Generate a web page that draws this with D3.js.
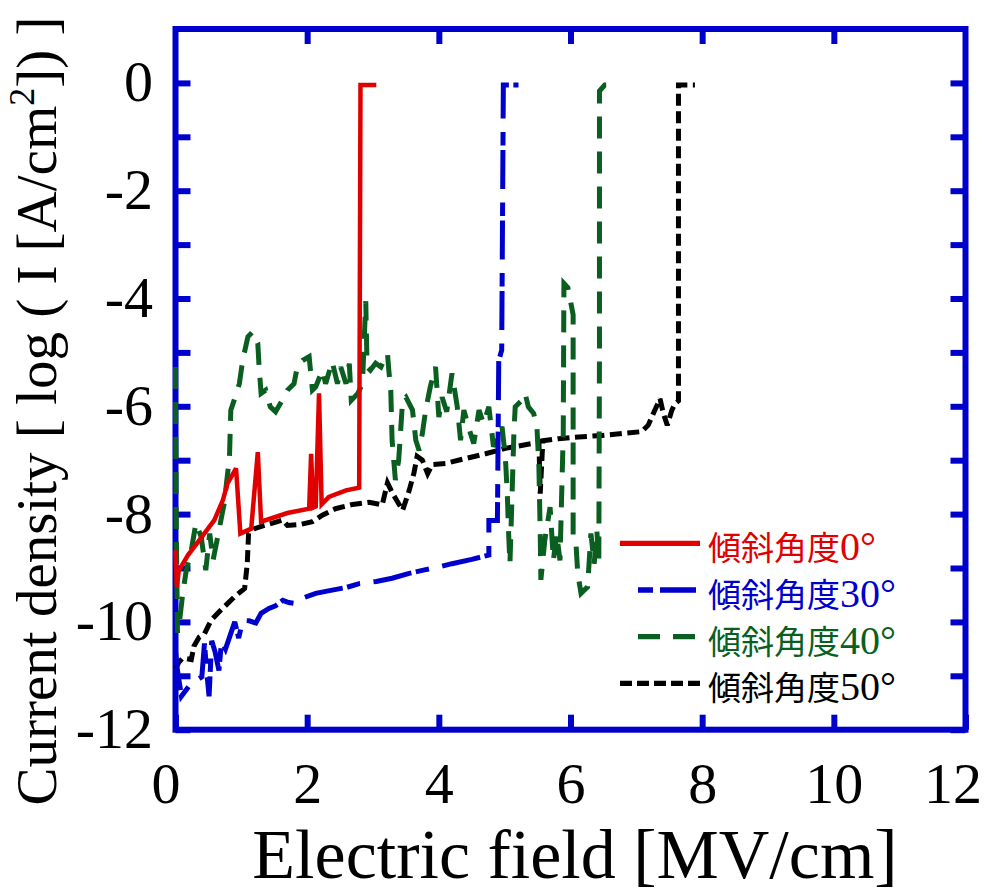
<!DOCTYPE html>
<html><head><meta charset="utf-8">
<script src="https://cdn.jsdelivr.net/npm/d3@7"></script>
<style>body{margin:0;background:#fff} svg{display:block}</style>
</head><body>
<svg id="c" width="984" height="892"></svg>
<script>
// ---- data ----
const xTicks = [0, 2, 4, 6, 8, 10, 12];
const xTopTicks = [2, 4, 6, 8, 10];
const yTicks = [-12, -11, -10, -9, -8, -7, -6, -5, -4, -3, -2, -1, 0];
const yLabelTicks = [-12, -10, -8, -6, -4, -2, 0];
const seriesNames = ["傾斜角度0°", "傾斜角度30°", "傾斜角度40°", "傾斜角度50°"];
const legendPrefix = "傾斜角度";
const legendAngles = ["0°", "30°", "40°", "50°"];

const red0 = [[0,-8.67],[0.02,-9.35],[0.05,-9.05],[0.19,-8.76],[0.34,-8.52],[0.59,-8.11],[0.72,-7.74],[0.79,-7.43],[0.92,-7.15],[0.985,-8.36],[1.15,-8.27],[1.25,-6.85],[1.30,-8.14],[1.70,-7.98],[2.03,-7.90],[2.06,-6.88],[2.09,-7.88],[2.13,-7.86],[2.18,-5.76],[2.22,-7.82],[2.33,-7.68],[2.59,-7.56],[2.79,-7.51],[2.81,-0.04],[3.05,-0.04]];

const blue30 = [[0,-10.55],[0.03,-10.9],[0.09,-11.38],[0.2,-11.2],[0.3,-11.1],[0.4,-11.02],[0.44,-10.4],[0.48,-11.0],[0.51,-11.38],[0.55,-10.35],[0.6,-10.55],[0.66,-10.9],[0.7,-10.35],[0.76,-10.5],[0.83,-10.25],[0.9,-10.0],[0.96,-10.3],[1.02,-9.97],[1.12,-9.98],[1.22,-10.02],[1.3,-9.84],[1.42,-9.75],[1.52,-9.7],[1.63,-9.6],[1.72,-9.64],[1.83,-9.66],[1.95,-9.55],[2.13,-9.47],[2.38,-9.41],[2.6,-9.36],[2.79,-9.29],[3.05,-9.25],[3.29,-9.19],[3.55,-9.1],[3.8,-9.03],[4.0,-8.98],[4.2,-8.92],[4.5,-8.84],[4.76,-8.76],[4.76,-8.12],[4.89,-8.12],[4.91,-5.15],[4.955,-4.96],[4.98,-0.04],[5.21,-0.04]];

const green40 = [[0,-5.27],[0.01,-8.0],[0.03,-10.2],[0.07,-9.9],[0.11,-9.47],[0.16,-9.07],[0.24,-8.67],[0.31,-8.17],[0.39,-8.42],[0.46,-9.04],[0.52,-8.36],[0.57,-8.86],[0.62,-8.55],[0.67,-8.24],[0.74,-7.8],[0.82,-6.94],[0.84,-6.07],[0.89,-5.89],[0.97,-5.58],[1.02,-5.15],[1.1,-4.71],[1.17,-4.62],[1.25,-4.83],[1.27,-5.27],[1.30,-5.76],[1.37,-5.70],[1.44,-6.01],[1.52,-6.10],[1.62,-5.89],[1.70,-5.70],[1.80,-5.58],[1.85,-5.27],[1.93,-5.15],[2.03,-5.08],[2.08,-5.70],[2.13,-5.64],[2.23,-5.33],[2.28,-5.58],[2.38,-5.17],[2.46,-5.58],[2.51,-5.27],[2.59,-5.58],[2.64,-5.21],[2.67,-5.89],[2.77,-5.76],[2.84,-5.58],[2.89,-4.05],[2.91,-5.27],[2.96,-5.33],[3.04,-5.2],[3.12,-5.27],[3.22,-5.02],[3.24,-5.33],[3.27,-5.70],[3.29,-6.63],[3.34,-7.37],[3.39,-7.0],[3.45,-5.89],[3.50,-5.83],[3.60,-6.07],[3.65,-6.63],[3.70,-6.82],[3.75,-6.5],[3.80,-6.07],[3.87,-5.64],[3.95,-5.27],[4.0,-6.2],[4.05,-5.83],[4.12,-6.1],[4.20,-5.39],[4.28,-6.01],[4.33,-6.63],[4.38,-6.07],[4.45,-6.38],[4.53,-6.69],[4.61,-6.07],[4.68,-6.32],[4.76,-6.01],[4.83,-6.75],[4.96,-6.38],[5.01,-6.94],[5.04,-7.62],[5.06,-8.36],[5.08,-8.92],[5.11,-7.74],[5.14,-6.5],[5.16,-6.01],[5.26,-5.89],[5.31,-5.76],[5.36,-6.01],[5.44,-6.13],[5.49,-6.38],[5.52,-7.12],[5.54,-8.36],[5.55,-9.22],[5.61,-8.48],[5.69,-7.87],[5.74,-8.86],[5.79,-8.36],[5.84,-8.86],[5.89,-6.5],[5.90,-3.72],[5.96,-3.8],[6.04,-4.3],[6.04,-8.4],[6.08,-8.48],[6.11,-9.1],[6.16,-9.47],[6.26,-9.35],[6.31,-8.36],[6.36,-8.92],[6.40,-8.3],[6.43,-8.9],[6.44,-5.0],[6.44,-0.15],[6.52,-0.04],[6.69,-0.04]];

const black50 = [[0,-10.87],[0.05,-10.75],[0.11,-10.67],[0.24,-10.7],[0.28,-10.45],[0.36,-10.28],[0.44,-10.22],[0.54,-9.97],[0.69,-9.78],[0.89,-9.54],[1.05,-9.38],[1.09,-8.92],[1.11,-8.36],[1.2,-8.27],[1.35,-8.21],[1.55,-8.14],[1.63,-8.11],[1.70,-8.21],[1.9,-8.19],[2.08,-8.14],[2.23,-8.02],[2.43,-7.9],[2.69,-7.82],[2.94,-7.78],[3.14,-7.83],[3.22,-7.42],[3.3,-7.62],[3.45,-7.93],[3.55,-7.56],[3.62,-7.25],[3.67,-6.93],[3.75,-7.0],[3.83,-7.25],[3.9,-7.08],[4.1,-7.06],[4.4,-6.97],[4.71,-6.88],[5.01,-6.78],[5.42,-6.69],[5.52,-6.66],[5.54,-7.62],[5.58,-6.64],[5.82,-6.6],[6.12,-6.57],[6.48,-6.54],[6.83,-6.5],[7.08,-6.47],[7.18,-6.35],[7.26,-6.13],[7.36,-5.86],[7.41,-6.13],[7.47,-6.35],[7.54,-6.07],[7.59,-5.95],[7.64,-5.9],[7.64,-0.04],[7.89,-0.04]];

const seriesData = [red0, blue30, green40, black50];
const seriesColors = ["#e00000", "#0000cc", "#0a5f20", "#000000"];
const seriesDash = [null, "39,4.5,13.5,13.5", "22,13", "12,5.5"];
const seriesWidth = [4.5, 5, 5, 5];
const legendDash = [null, "15,7,36,100", "22,13", "12,5"];
const legendX1 = [620, 638, 638, 620];
const legendX2 = [700, 696, 696, 700];

// ---- chart ----
const svg = d3.select("#c");
const frameColor = "#0000cc";
const serif = "'Liberation Serif','Times New Roman',serif";
const x = d3.scaleLinear().domain([0, 12]).range([175.5, 965.5]);
const y = d3.scaleLinear().domain([-12, 1]).range([729.7, 29]);

svg.append("rect")
  .attr("x", x(0)).attr("y", y(1))
  .attr("width", x(12) - x(0)).attr("height", y(-12) - y(1))
  .attr("fill", "none").attr("stroke", frameColor).attr("stroke-width", 6);

function styleAxis(g) {
  g.select(".domain").remove();
  g.selectAll(".tick line").attr("stroke", frameColor).attr("stroke-width", 6);
  g.selectAll("text").attr("font-family", serif).attr("font-size", 58).attr("fill", "#000");
}

const gB = svg.append("g").attr("transform", `translate(0,${y(-12)})`)
  .call(d3.axisBottom(x).tickValues(xTicks).tickSizeInner(-15).tickSizeOuter(0).tickFormat(d => String(d)));
styleAxis(gB);
gB.selectAll("text").attr("y", 803 - y(-12)).attr("dy", 0)
  .attr("dx", d => d === 0 ? -10 : (d === 12 ? -13 : 0));

const gT = svg.append("g").attr("transform", `translate(0,${y(1)})`)
  .call(d3.axisTop(x).tickValues(xTopTicks).tickSizeInner(-15).tickSizeOuter(0).tickFormat(""));
styleAxis(gT);

const gL = svg.append("g").attr("transform", `translate(${x(0)},0)`)
  .call(d3.axisLeft(y).tickValues(yTicks).tickSizeInner(-15).tickSizeOuter(0)
    .tickFormat(d => yLabelTicks.includes(d) ? String(d) : ""));
styleAxis(gL);
gL.selectAll("text").attr("x", 153 - x(0)).attr("dy", 18).attr("text-anchor", "end");

const gR = svg.append("g").attr("transform", `translate(${x(12)},0)`)
  .call(d3.axisRight(y).tickValues(yTicks).tickSizeInner(-15).tickSizeOuter(0).tickFormat(""));
styleAxis(gR);

// series
const line = d3.line().x(d => x(d[0])).y(d => y(d[1]));
const order = [3, 2, 1, 0];
svg.append("g").selectAll("path").data(order).join("path")
  .attr("d", i => line(seriesData[i]))
  .attr("fill", "none")
  .attr("stroke", i => seriesColors[i])
  .attr("stroke-width", i => seriesWidth[i])
  .attr("stroke-dasharray", i => seriesDash[i])
  .attr("stroke-linejoin", "miter")
  .attr("stroke-miterlimit", 3);

// legend
const legY0 = 543.3, legStep = 46.7;
const leg = svg.append("g").selectAll("g").data(d3.range(4)).join("g")
  .attr("transform", i => `translate(0,${legY0 + i * legStep})`);
leg.append("line")
  .attr("x1", i => legendX1[i]).attr("x2", i => legendX2[i])
  .attr("y1", 0).attr("y2", 0)
  .attr("stroke", i => seriesColors[i]).attr("stroke-width", 5.3)
  .attr("stroke-dasharray", i => legendDash[i]);
const lt = leg.append("text").attr("x", 708).attr("y", 17)
  .attr("fill", i => seriesColors[i]);
lt.append("tspan").attr("font-family", "'Noto Sans CJK JP','Noto Sans CJK SC',sans-serif")
  .attr("font-size", 33).text(legendPrefix);
lt.append("tspan").attr("font-family", serif).attr("font-size", 40)
  .text(i => legendAngles[i]);

// axis titles
svg.append("text").attr("x", 575).attr("y", 878)
  .attr("text-anchor", "middle").attr("font-family", serif).attr("font-size", 70)
  .attr("fill", "#000").text("Electric field [MV/cm]");

const yt = svg.append("text").attr("transform", "translate(56,411) rotate(-90)")
  .attr("text-anchor", "middle").attr("font-family", serif).attr("font-size", 57).attr("fill", "#000");
yt.append("tspan").text("Current density [ log ( I [A/cm");
yt.append("tspan").attr("font-size", 36).attr("dy", -22).text("2");
yt.append("tspan").attr("dy", 22).text("]) ]");
</script>
</body></html>
